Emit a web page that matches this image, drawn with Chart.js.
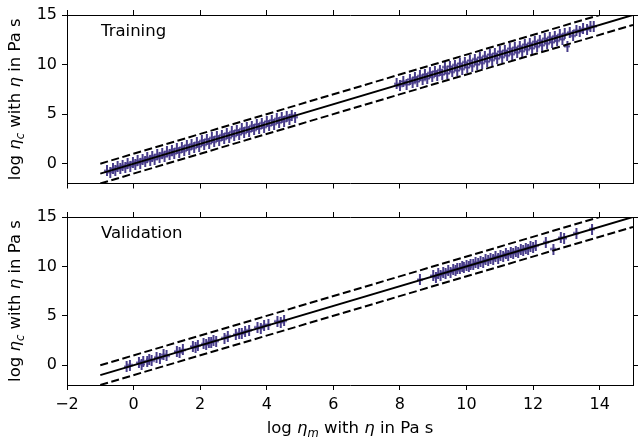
<!doctype html>
<html lang="en">
<head>
<meta charset="utf-8">
<title>Parity plot</title>
<script src="https://cdn.jsdelivr.net/npm/chart.js"></script>
<style>
  html, body { margin: 0; padding: 0; background: #fff; }
  #wrap { position: relative; width: 639px; height: 440px; }
  .box { position: absolute; left: 0; width: 639px; }
</style>
</head>
<body>
<div id="wrap">
  <div class="box" style="top:0;height:200px"><canvas id="top" width="639" height="200"></canvas></div>
  <div class="box" style="top:200px;height:240px"><canvas id="bottom" width="639" height="240"></canvas></div>
</div>
<script>
const FONT = '"DejaVu Sans", sans-serif';
const MARK = '#483d8b';

// tick labels
const xTicks = [-2, 0, 2, 4, 6, 8, 10, 12, 14];
const yTicks = [0, 5, 10, 15];
// x range of the reference lines (y = x, y = x +/- 1)
const refX = [-1, 15];

// training set, low viscosity group
const trainLowX = [-0.8,-0.7,-0.62,-0.55,-0.48,-0.4,-0.33,-0.25,-0.18,-0.1,-0.02,0.05,0.12,0.2,0.27,0.35,0.41,0.5,0.56,0.63,
  0.71,0.78,0.86,0.93,1.0,1.08,1.15,1.22,1.3,1.37,1.45,1.52,1.6,1.67,1.74,1.82,1.9,1.97,2.05,2.12,
  2.2,2.27,2.35,2.42,2.5,2.57,2.65,2.72,2.8,2.87,2.95,3.02,3.1,3.17,3.25,3.32,3.4,3.47,3.55,3.62,
  3.7,3.77,3.85,3.92,4.0,4.07,4.15,4.22,4.3,4.37,4.45,4.52,4.6,4.68,4.75,4.85];
const trainLowY = [-0.72,-0.85,-0.5,-0.66,-0.3,-0.52,-0.2,-0.41,0.02,-0.25,0.15,-0.12,0.3,0.05,0.45,0.18,0.6,0.32,0.75,0.45,
  0.9,0.6,1.05,0.72,1.2,0.88,1.35,1.02,1.5,1.15,1.62,1.3,1.85,1.45,1.95,1.6,2.1,1.75,2.3,1.9,
  2.45,2.05,2.6,2.2,2.72,2.35,2.88,2.5,3.05,2.62,3.2,2.8,3.35,2.95,3.5,3.1,3.62,3.25,3.8,3.4,
  3.95,3.55,4.1,3.7,4.25,3.85,4.38,4.0,4.52,4.15,4.65,4.3,4.75,4.45,4.9,4.7];
// training set, high viscosity group
const trainHighX = [7.9,8.0,8.1,8.2,8.3,8.38,8.45,8.52,8.6,8.68,8.75,8.82,8.9,8.97,9.05,9.12,9.2,9.27,9.35,9.42,
  9.5,9.57,9.65,9.72,9.8,9.87,9.95,10.02,10.1,10.17,10.25,10.32,10.4,10.47,10.55,10.62,10.7,10.77,10.85,10.92,
  11.0,11.07,11.15,11.22,11.3,11.37,11.45,11.52,11.6,11.67,11.75,11.82,11.9,11.97,12.05,12.12,12.2,12.27,12.35,12.42,
  12.5,12.57,12.65,12.72,12.8,12.88,12.95,13.03,13.1,13.2,13.3,13.4,13.5,13.62,13.72,13.82];
const trainHighY = [8.05,7.85,8.3,8.0,8.5,8.15,8.7,8.3,8.85,8.45,9.0,8.6,9.15,8.75,9.3,8.9,9.45,9.0,9.75,9.1,
  9.8,9.25,9.95,9.4,10.1,9.55,10.25,9.7,10.4,9.85,10.55,10.0,10.7,10.15,10.85,10.3,11.0,10.45,11.1,10.6,
  11.3,10.75,11.4,10.9,11.6,11.05,11.7,11.2,11.85,11.35,12.0,11.5,12.15,11.65,12.3,11.8,12.45,11.95,12.6,12.1,
  12.75,12.25,12.85,12.4,13.0,12.55,13.1,11.85,13.25,12.9,13.45,13.3,13.6,13.55,13.8,13.85];

// validation set
const valLowX = [-0.21,-0.11,0.16,0.24,0.29,0.41,0.47,0.54,0.69,0.79,0.9,0.99,1.3,1.38,1.48,1.78,1.86,1.93,2.1,2.18,
  2.26,2.33,2.4,2.48,2.73,2.83,3.07,3.17,3.25,3.35,3.47,3.72,3.82,3.92,4.05,4.32,4.42,4.52];
const valLowY = [-0.15,0.02,0.25,0.1,0.4,0.35,0.58,0.45,0.8,0.7,1.05,0.95,1.4,1.3,1.55,1.9,1.8,2.0,2.15,2.1,
  2.35,2.3,2.5,2.45,2.75,2.95,3.1,3.25,3.2,3.4,3.55,3.85,3.75,4.0,4.1,4.45,4.35,4.5];
const valHighX = [8.6,9.0,9.08,9.15,9.22,9.3,9.37,9.45,9.52,9.6,9.67,9.72,9.8,9.87,9.92,10.0,10.07,10.12,10.2,10.27,
  10.35,10.42,10.5,10.57,10.65,10.72,10.8,10.87,10.95,11.02,11.1,11.18,11.25,11.33,11.4,11.48,11.55,11.63,11.7,11.78,
  11.85,11.92,12.0,12.08,12.38,12.61,12.83,12.93,13.3,13.77];
const valHighY = [8.66,9.05,8.9,9.25,9.1,9.4,9.3,9.55,9.4,9.7,9.6,9.8,9.75,9.95,9.85,10.1,9.95,10.2,10.15,10.4,
  10.25,10.5,10.4,10.7,10.55,10.8,10.7,11.0,10.85,11.1,11.0,11.3,11.15,11.45,11.3,11.55,11.45,11.7,11.6,11.85,
  11.75,12.0,11.9,12.1,12.45,11.76,12.9,12.85,13.37,13.78];

function zip(xs, ys) { return xs.map((x, i) => ({ x: x, y: ys[i] })); }

// errorbar-like '+' marker
function makeMarker() {
  const c = document.createElement('canvas');
  c.width = 6; c.height = 11;
  const g = c.getContext('2d');
  g.fillStyle = MARK;
  g.fillRect(2, 0, 2, 11);
  g.fillRect(0, 4.5, 6, 2);
  return c;
}
const marker = makeMarker();

function axis(pos, size, showLabels, ticks) {
  return {
    type: 'linear', position: pos, min: -2, max: 15,
    afterBuildTicks: s => { s.ticks = ticks.map(v => ({ value: v })); },
    afterFit: s => {
      if (pos === 'left' || pos === 'right') s.width = size; else s.height = size;
    },
    grid: { drawOnChartArea: false, drawTicks: true, tickLength: 5, color: '#000', lineWidth: 1 },
    border: { display: true, color: '#000', width: 1 },
    ticks: {
      display: showLabels, color: '#000', font: { family: FONT, size: 16 }, padding: 5,
      maxRotation: 0, autoSkip: false,
      callback: v => String(v).replace('-', '\u2212')
    }
  };
}

// text with italic / subscript pieces
function drawRich(ctx, parts, size, cx, baseY) {
  const fontFor = p => (p[1] === 'n' ? '' : 'italic ') + (p[1] === 's' ? size * 0.7 : size) + 'px ' + FONT;
  let total = 0;
  parts.forEach(p => { ctx.font = fontFor(p); total += ctx.measureText(p[0]).width; });
  let x = cx - total / 2;
  ctx.textAlign = 'left';
  ctx.textBaseline = 'alphabetic';
  parts.forEach(p => {
    ctx.font = fontFor(p);
    ctx.fillText(p[0], x, baseY + (p[1] === 's' ? size * 0.22 : 0));
    x += ctx.measureText(p[0]).width;
  });
}

const yTitle = [['log ', 'n'], ['\u03b7', 'i'], ['c', 's'], [' with ', 'n'], ['\u03b7', 'i'], [' in Pa s', 'n']];
const xTitle = [['log ', 'n'], ['\u03b7', 'i'], ['m', 's'], [' with ', 'n'], ['\u03b7', 'i'], [' in Pa s', 'n']];

function textPlugin(label, withX) {
  return {
    id: 'texts',
    afterDraw(chart) {
      const ctx = chart.ctx, a = chart.chartArea;
      ctx.save();
      ctx.fillStyle = '#000';
      ctx.font = '16.5px ' + FONT;
      ctx.textAlign = 'left';
      ctx.textBaseline = 'alphabetic';
      ctx.fillText(label, a.left + 34, a.top + 21);
      ctx.save();
      ctx.translate(20, (a.top + a.bottom) / 2);
      ctx.rotate(-Math.PI / 2);
      drawRich(ctx, yTitle, 16.5, 0, 0);
      ctx.restore();
      if (withX) drawRich(ctx, xTitle, 16.5, (a.left + a.right) / 2, a.bottom + 48);
      ctx.restore();
    }
  };
}

function build(id, pts, label, topH, bottomH, withX) {
  const datasets = [
    { label: 'y = x', data: refX.map(v => ({ x: v, y: v })), showLine: true, borderColor: '#000', borderWidth: 2, pointRadius: 0 },
    { label: 'y = x + 1', data: refX.map(v => ({ x: v, y: v + 1 })), showLine: true, borderColor: '#000', borderWidth: 2, borderDash: [8, 3.5], pointRadius: 0 },
    { label: 'y = x - 1', data: refX.map(v => ({ x: v, y: v - 1 })), showLine: true, borderColor: '#000', borderWidth: 2, borderDash: [8, 3.5], pointRadius: 0 },
    { label: label, data: pts, showLine: false, pointStyle: marker, pointRadius: 5, borderColor: MARK, backgroundColor: MARK }
  ];
  return new Chart(document.getElementById(id), {
    type: 'scatter',
    data: { datasets },
    options: {
      responsive: false, animation: false, events: [],
      layout: { padding: 0 },
      plugins: { legend: { display: false }, tooltip: { enabled: false } },
      scales: {
        x: axis('bottom', bottomH, withX, xTicks),
        x2: axis('top', topH, false, xTicks),
        y: axis('left', 67, true, yTicks),
        y2: axis('right', 3, false, yTicks)
      }
    },
    plugins: [textPlugin(label, withX)]
  });
}

build('top', zip(trainLowX, trainLowY).concat(zip(trainHighX, trainHighY)), 'Training', 15, 16.5, false);
build('bottom', zip(valLowX, valLowY).concat(zip(valHighX, valHighY)), 'Validation', 17, 55, true);
</script>
</body>
</html>
